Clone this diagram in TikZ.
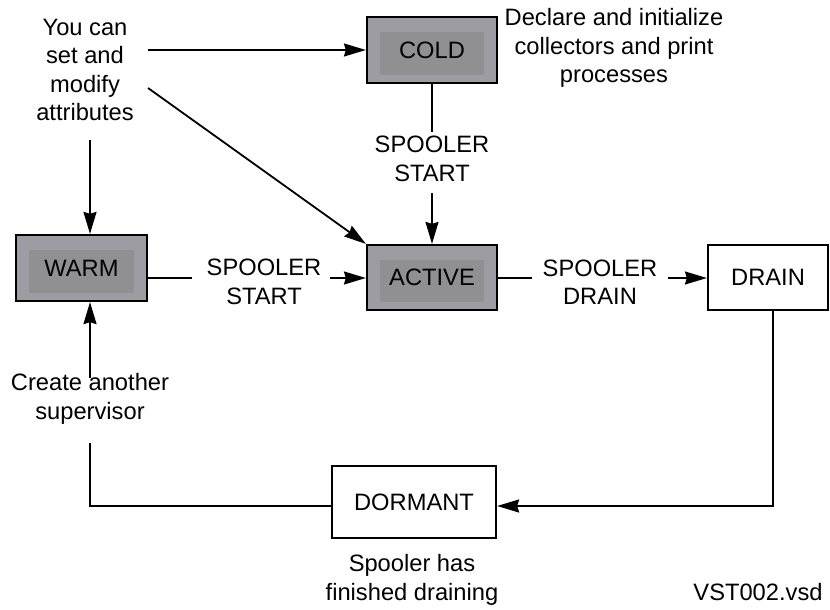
\documentclass[tikz,border=0pt]{standalone}
\usepackage{fontspec}
\setmainfont{Liberation Sans}
\usetikzlibrary{arrows.meta,positioning}
\definecolor{stategrey}{RGB}{156,156,162}
\definecolor{stateinner}{RGB}{144,144,146}
\tikzset{
  state/.style={draw=black, line width=2.2pt, fill=stategrey, inner sep=0pt,
    minimum width=130pt, minimum height=66pt,
    path picture={\fill[stateinner]
      ([shift={(13pt,-15pt)}]path picture bounding box.north west) rectangle
      ([shift={(-13pt,8pt)}]path picture bounding box.south east);}},
  plain/.style={draw=black, line width=2.2pt, fill=white, inner sep=0pt},
  note/.style={align=center, inner sep=0pt},
  link/.style={line width=1.8pt},
  arrow/.style={link, -{Stealth[length=22pt, width=13pt, inset=2pt]}},
}

\begin{document}
\begin{tikzpicture}[x=1pt,y=-1pt,font=\fontsize{23.7}{28.5}\selectfont]
  \useasboundingbox (0,0) rectangle (830,610);
  % states
  \node[state] (cold) at (432,50) {COLD};
  \node[state, minimum width=131pt] (warm) at (81.5,268) {WARM};
  \node[state, minimum height=65pt] (active) at (432,277.5) {ACTIVE};
  \node[plain, minimum width=120pt, minimum height=65pt] (drain) at (768,277.5) {DRAIN};
  \node[plain, minimum width=164pt, minimum height=72pt] (dormant) at (414,502) {DORMANT};
  % texts
  \node[note] (attr) at (85,70) {You can\\set and\\modify\\attributes};
  \node[note] (declare) at (614,48) {Declare and initialize\\collectors and print\\processes};
  \node[note] (coldstart) at (432,159) {SPOOLER\\START};
  \node[note] (warmstart) at (264,282) {SPOOLER\\START};
  \node[note] (spdrain) at (600,282) {SPOOLER\\DRAIN};
  \node[note] (another) at (90,399) {Create another\\supervisor};
  \node[note] (finished) at (412,580) {Spooler has\\finished draining};
  \node[note] (vsd) at (758,592) {VST002.vsd};
  % connector ends
  \coordinate (attrR) at (148,50);
  \coordinate (attrD) at (148,88);
  \coordinate (attrB) at (90,140);
  \coordinate (coldcut) at (432,132);
  \coordinate (activein) at (432,193);
  \coordinate (warmcut) at (192,278);
  \coordinate (warmin) at (330,278);
  \coordinate (activecut) at (532,278);
  \coordinate (drainin) at (668,278);
  \coordinate (drainturn) at (773,506);
  \coordinate (dormturn) at (90,506);
  \coordinate (dormcut) at (90,443);
  \coordinate (warmup) at (90,378);
  % connectors
  \draw[arrow] (attrR) -- (cold.west);
  \draw[arrow] (attrD) -- (active.north west);
  \draw[arrow] (attrB) -- (warm.north -| attrB);
  \draw[link] (cold.south) -- (coldcut);
  \draw[arrow] (activein) -- (active.north);
  \draw[link] (warm.east |- warmcut) -- (warmcut);
  \draw[arrow] (warmin) -- (active.west |- warmin);
  \draw[link] (active.east |- activecut) -- (activecut);
  \draw[arrow] (drainin) -- (drain.west |- drainin);
  \draw[arrow] (drain.south -| drainturn) -- (drainturn) -- (dormant.east |- drainturn);
  \draw[link] (dormant.west |- dormturn) -- (dormturn) -- (dormcut);
  \draw[arrow] (warmup) -- (warm.south -| warmup);
\end{tikzpicture}
\end{document}
